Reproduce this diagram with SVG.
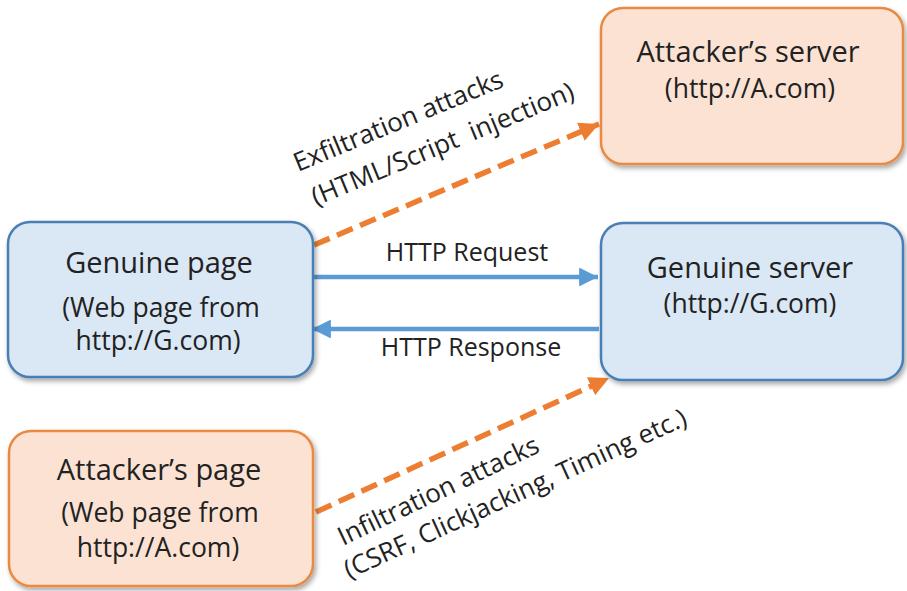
<svg xmlns="http://www.w3.org/2000/svg" width="907" height="591" viewBox="0 0 907 591">
<defs>
<filter id="sh" x="-10%" y="-10%" width="120%" height="125%">
<feDropShadow dx="2" dy="3" stdDeviation="2.5" flood-color="#000" flood-opacity="0.35"/>
</filter>
<marker id="bh" viewBox="0 0 10 10" refX="10" refY="5" markerWidth="4.2" markerHeight="4.2" markerUnits="strokeWidth" orient="auto">
<path d="M0,0 L10,5 L0,10 z" fill="#5b9bd5"/>
</marker>
<marker id="oh" viewBox="0 0 10 10" refX="10" refY="5" markerWidth="3.6" markerHeight="3.6" markerUnits="strokeWidth" orient="auto">
<path d="M0,0 L10,5 L0,10 z" fill="#ed7d31"/>
</marker>
</defs>
<style>
.blue{fill:#dae7f4;stroke:#4a7fb4;stroke-width:2.5}
.orng{fill:#fbe2d3;stroke:#e98a43;stroke-width:2.5}
text{font-family:"Open Sans","Liberation Sans",sans-serif;fill:#222;text-anchor:middle}
.t{font-size:29px}
.s{font-size:26.5px}
.l{font-size:25px}
.r{font-size:26px;text-anchor:start}
.ba{stroke:#5b9bd5;stroke-width:4.5;fill:none;marker-end:url(#bh)}
.oa{stroke:#ed7d31;stroke-width:5.5;fill:none;stroke-dasharray:17 8;marker-end:url(#oh)}
</style>
<rect width="907" height="591" fill="#fff"/>
<g id="connectors">
<line class="ba" x1="314" y1="277" x2="598" y2="277"/>
<line class="ba" x1="599" y1="329" x2="312" y2="329"/>
<line class="oa" x1="314" y1="245" x2="599" y2="124"/>
<line class="oa" x1="316" y1="512" x2="609" y2="378"/>
<text class="l" x="467" y="261">HTTP Request</text>
<text class="l" x="471" y="356">HTTP Response</text>
<g transform="translate(298,172) rotate(-22.5)">
<text class="r" x="0" y="0">Exfiltration attacks</text>
</g>
<g transform="translate(316,206) rotate(-22.5)">
<text class="r" x="0" y="0" xml:space="preserve">(HTML/Script  injection)</text>
</g>
<g transform="translate(343,546) rotate(-25.5)">
<text class="r" x="0" y="0">Infiltration attacks</text>
</g>
<g transform="translate(349,579) rotate(-24.5)">
<text class="r" x="0" y="0">(CSRF, Clickjacking, Timing etc.)</text>
</g>
</g>
<g id="attacker-server">
<rect class="orng" x="601" y="8" width="302" height="156" rx="22" filter="url(#sh)"/>
<text class="t" x="748" y="62">Attacker’s server</text>
<text class="s" x="750" y="98">(http://A.com)</text>
</g>
<g id="genuine-page">
<rect class="blue" x="8" y="222" width="305" height="155" rx="22" filter="url(#sh)"/>
<text class="t" x="159" y="273">Genuine page</text>
<text class="s" x="161" y="317">(Web page from</text>
<text class="s" x="158" y="350">http://G.com)</text>
</g>
<g id="genuine-server">
<rect class="blue" x="601" y="223" width="302" height="157" rx="22" filter="url(#sh)"/>
<text class="t" x="750" y="278">Genuine server</text>
<text class="s" x="750" y="313">(http://G.com)</text>
</g>
<g id="attacker-page">
<rect class="orng" x="9" y="431" width="304" height="155" rx="22" filter="url(#sh)"/>
<text class="t" x="159" y="480">Attacker’s page</text>
<text class="s" x="160" y="522">(Web page from</text>
<text class="s" x="158" y="557">http://A.com)</text>
</g>
</svg>
